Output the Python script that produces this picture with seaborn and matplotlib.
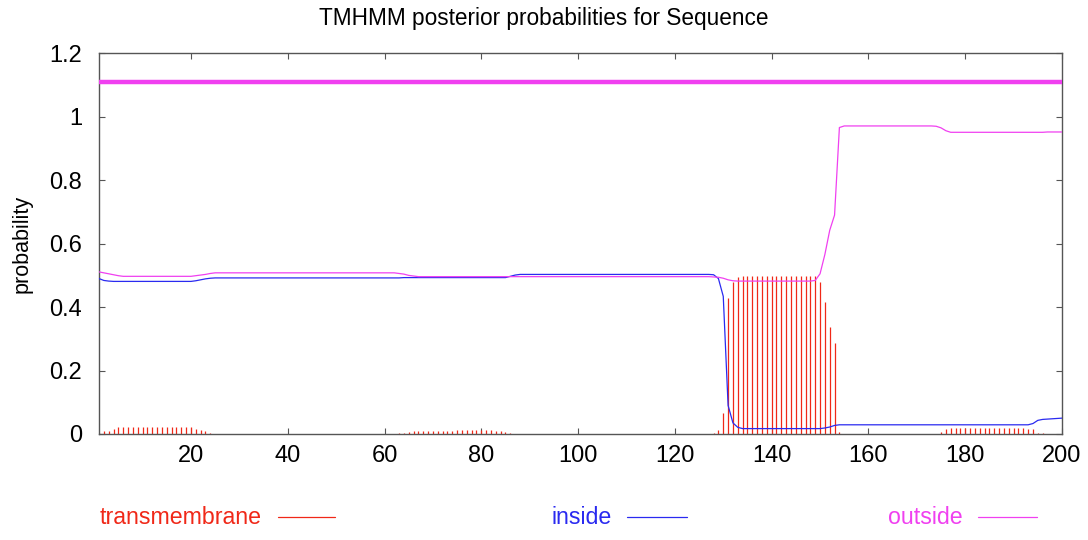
import numpy as np
import pandas as pd
import matplotlib
matplotlib.use("Agg")
import matplotlib.pyplot as plt
from matplotlib.lines import Line2D
import seaborn as sns

# ---------------- data (residue 1..200) ----------------
residues = list(range(1, 201))

inside = [
    0.490, 0.484, 0.482, 0.481, 0.481, 0.481, 0.481, 0.481, 0.481, 0.481,
    0.481, 0.481, 0.481, 0.481, 0.481, 0.481, 0.481, 0.481, 0.481, 0.481,
    0.483, 0.486, 0.489, 0.491, 0.492, 0.492, 0.492, 0.492, 0.492, 0.492,
    0.492, 0.492, 0.492, 0.492, 0.492, 0.492, 0.492, 0.492, 0.492, 0.492,
    0.492, 0.492, 0.492, 0.492, 0.492, 0.492, 0.492, 0.492, 0.492, 0.492,
    0.492, 0.492, 0.492, 0.492, 0.492, 0.492, 0.492, 0.492, 0.492, 0.492,
    0.492, 0.492, 0.492, 0.493, 0.493, 0.493, 0.493, 0.493, 0.493, 0.493,
    0.493, 0.493, 0.493, 0.493, 0.493, 0.493, 0.493, 0.493, 0.493, 0.493,
    0.493, 0.493, 0.493, 0.493, 0.493, 0.497, 0.501, 0.503, 0.503, 0.503,
    0.503, 0.503, 0.503, 0.503, 0.503, 0.503, 0.503, 0.503, 0.503, 0.503,
    0.503, 0.503, 0.503, 0.503, 0.503, 0.503, 0.503, 0.503, 0.503, 0.503,
    0.503, 0.503, 0.503, 0.503, 0.503, 0.503, 0.503, 0.503, 0.503, 0.503,
    0.503, 0.503, 0.503, 0.503, 0.503, 0.503, 0.503, 0.502, 0.490, 0.434,
    0.090, 0.035, 0.021, 0.017, 0.017, 0.017, 0.017, 0.017, 0.017, 0.017,
    0.017, 0.017, 0.017, 0.017, 0.017, 0.017, 0.017, 0.017, 0.017, 0.017,
    0.019, 0.022, 0.027, 0.029, 0.029, 0.029, 0.029, 0.029, 0.029, 0.029,
    0.029, 0.029, 0.029, 0.029, 0.029, 0.029, 0.029, 0.029, 0.029, 0.029,
    0.029, 0.029, 0.029, 0.029, 0.029, 0.029, 0.029, 0.029, 0.029, 0.029,
    0.029, 0.029, 0.029, 0.029, 0.029, 0.029, 0.029, 0.029, 0.029, 0.029,
    0.029, 0.029, 0.029, 0.033, 0.043, 0.046, 0.047, 0.048, 0.049, 0.050,
]

outside = [
    0.511, 0.508, 0.505, 0.502, 0.499, 0.497, 0.497, 0.497, 0.497, 0.497,
    0.497, 0.497, 0.497, 0.497, 0.497, 0.497, 0.497, 0.497, 0.497, 0.497,
    0.499, 0.501, 0.503, 0.506, 0.508, 0.508, 0.508, 0.508, 0.508, 0.508,
    0.508, 0.508, 0.508, 0.508, 0.508, 0.508, 0.508, 0.508, 0.508, 0.508,
    0.508, 0.508, 0.508, 0.508, 0.508, 0.508, 0.508, 0.508, 0.508, 0.508,
    0.508, 0.508, 0.508, 0.508, 0.508, 0.508, 0.508, 0.508, 0.508, 0.508,
    0.508, 0.508, 0.506, 0.504, 0.500, 0.498, 0.496, 0.496, 0.496, 0.496,
    0.496, 0.496, 0.496, 0.496, 0.496, 0.496, 0.496, 0.496, 0.496, 0.496,
    0.496, 0.496, 0.496, 0.496, 0.496, 0.496, 0.496, 0.496, 0.496, 0.496,
    0.496, 0.496, 0.496, 0.496, 0.496, 0.496, 0.496, 0.496, 0.496, 0.496,
    0.496, 0.496, 0.496, 0.496, 0.496, 0.496, 0.496, 0.496, 0.496, 0.496,
    0.496, 0.496, 0.496, 0.496, 0.496, 0.496, 0.496, 0.496, 0.496, 0.496,
    0.496, 0.496, 0.496, 0.496, 0.496, 0.496, 0.496, 0.495, 0.494, 0.491,
    0.486, 0.483, 0.482, 0.482, 0.482, 0.482, 0.482, 0.482, 0.482, 0.482,
    0.482, 0.482, 0.482, 0.482, 0.482, 0.482, 0.482, 0.482, 0.484, 0.505,
    0.566, 0.642, 0.690, 0.966, 0.971, 0.971, 0.971, 0.971, 0.971, 0.971,
    0.971, 0.971, 0.971, 0.971, 0.971, 0.971, 0.971, 0.971, 0.971, 0.971,
    0.971, 0.971, 0.971, 0.970, 0.965, 0.956, 0.951, 0.951, 0.951, 0.951,
    0.951, 0.951, 0.951, 0.951, 0.951, 0.951, 0.951, 0.951, 0.951, 0.951,
    0.951, 0.951, 0.951, 0.951, 0.951, 0.951, 0.952, 0.952, 0.952, 0.952,
]

transmembrane = [
    0.004, 0.009, 0.008, 0.015, 0.021, 0.022, 0.022, 0.022, 0.022, 0.022,
    0.022, 0.022, 0.022, 0.022, 0.022, 0.022, 0.022, 0.022, 0.022, 0.022,
    0.016, 0.013, 0.010, 0.003, 0.000, 0.000, 0.000, 0.000, 0.000, 0.000,
    0.000, 0.000, 0.000, 0.000, 0.000, 0.000, 0.000, 0.000, 0.000, 0.000,
    0.000, 0.000, 0.000, 0.000, 0.000, 0.000, 0.000, 0.000, 0.000, 0.000,
    0.000, 0.000, 0.000, 0.000, 0.000, 0.000, 0.000, 0.000, 0.000, 0.000,
    0.000, 0.000, 0.002, 0.003, 0.007, 0.009, 0.011, 0.011, 0.011, 0.011,
    0.011, 0.011, 0.011, 0.011, 0.012, 0.012, 0.012, 0.012, 0.012, 0.012,
    0.012, 0.012, 0.011, 0.009, 0.006, 0.003, 0.000, 0.000, 0.000, 0.000,
    0.000, 0.000, 0.000, 0.000, 0.000, 0.000, 0.000, 0.000, 0.000, 0.000,
    0.000, 0.000, 0.000, 0.000, 0.000, 0.000, 0.000, 0.000, 0.000, 0.000,
    0.000, 0.000, 0.000, 0.000, 0.000, 0.000, 0.000, 0.000, 0.000, 0.000,
    0.000, 0.000, 0.000, 0.000, 0.000, 0.000, 0.000, 0.003, 0.012, 0.066,
    0.430, 0.478, 0.496, 0.498, 0.498, 0.498, 0.498, 0.498, 0.498, 0.498,
    0.498, 0.498, 0.498, 0.498, 0.498, 0.498, 0.498, 0.498, 0.498, 0.478,
    0.415, 0.336, 0.286, 0.005, 0.000, 0.000, 0.000, 0.000, 0.000, 0.000,
    0.000, 0.000, 0.000, 0.000, 0.000, 0.000, 0.000, 0.000, 0.000, 0.000,
    0.000, 0.000, 0.000, 0.000, 0.007, 0.016, 0.019, 0.019, 0.019, 0.019,
    0.019, 0.019, 0.019, 0.019, 0.019, 0.019, 0.019, 0.019, 0.019, 0.019,
    0.019, 0.018, 0.016, 0.015, 0.003, 0.002, 0.001, 0.001, 0.000, 0.000,
]

# predicted topology (top bar): whole sequence outside
topology_start = [1]
topology_end = [200]
topology_level = [1.11]

x_ticks = [20, 40, 60, 80, 100, 120, 140, 160, 180, 200]
y_ticks = [0, 0.2, 0.4, 0.6, 0.8, 1.0, 1.2]
y_tick_labels = ["0", "0.2", "0.4", "0.6", "0.8", "1", "1.2"]

title = "TMHMM posterior probabilities for Sequence"
legend_labels = ["transmembrane", "inside", "outside"]

# ---------------- style ----------------
C_TM = "#f02818"
C_IN = "#2a2af0"
C_OUT = "#f040f0"

sns.set_style("ticks")
plt.rcParams["font.family"] = ["Liberation Sans", "DejaVu Sans"]
plt.rcParams["text.color"] = "black"
plt.rcParams["axes.labelcolor"] = "black"

fig = plt.figure(figsize=(10.88, 5.4), dpi=100)
ax = fig.add_axes([99 / 1088, 1 - 434 / 540, (1062 - 99) / 1088, (434 - 53.3) / 540])

# transmembrane impulses
ax.vlines(residues, 0, transmembrane, colors=C_TM, linewidth=0.9, zorder=2)

# inside / outside probability lines
df = pd.DataFrame({
    "residue": residues * 2,
    "prob": inside + outside,
    "state": ["inside"] * len(residues) + ["outside"] * len(residues),
})
sns.lineplot(data=df, x="residue", y="prob", hue="state",
             palette={"inside": C_IN, "outside": C_OUT},
             linewidth=0.9, legend=False, ax=ax, zorder=3)

# topology line
ax.hlines(topology_level, topology_start, topology_end, colors=C_OUT,
          linewidth=3.2, zorder=3)

ax.set_xlim(1, 200)
ax.set_ylim(0, 1.2)
ax.set_xticks(x_ticks)
ax.set_yticks(y_ticks)
ax.set_yticklabels(y_tick_labels)
ax.tick_params(direction="in", length=4, width=0.8, top=True, right=True,
               labelsize=17, colors="#555555", labelcolor="black")
ax.tick_params(axis="x", pad=8)
ax.tick_params(axis="y", pad=12)
for s in ax.spines.values():
    s.set_visible(True)
    s.set_color("#555555")
    s.set_linewidth(1.0)

ax.set_xlabel("")
ax.set_ylabel("probability", fontsize=15.5, labelpad=12, color="black")
fig.text(544 / 1088, 1 - 18 / 540, title, ha="center", va="center",
         fontsize=16.3, color="black")

# bottom legend
leg_y = 1 - 517 / 540
items = [
    (legend_labels[0], C_TM, 262, 278, 335),
    (legend_labels[1], C_IN, 612, 627, 687),
    (legend_labels[2], C_OUT, 963, 978, 1037),
]
for label, col, text_right, l0, l1 in items:
    fig.text(text_right / 1088, leg_y, label, ha="right", va="center",
             fontsize=16.7, color=col)
    fig.add_artist(Line2D([l0 / 1088, l1 / 1088], [leg_y, leg_y],
                          transform=fig.transFigure, color=col, linewidth=0.9))

fig.savefig("out.png", dpi=100)
